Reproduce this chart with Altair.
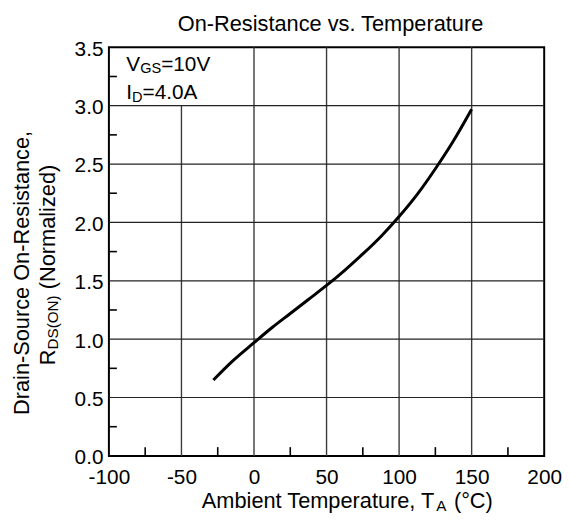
import altair as alt
import pandas as pd

# ---- data ----
temp_c = [-28, -15, 0, 12.5, 25, 37.5, 50, 62.5, 75, 87.5, 100, 112.5, 125, 137.5, 150]
rds_norm = [0.65, 0.81, 0.97, 1.10, 1.22, 1.34, 1.46, 1.59, 1.73, 1.88, 2.05, 2.24, 2.46, 2.70, 2.97]

x_ticks = [-100, -50, 0, 50, 100, 150, 200]
y_ticks = [0.0, 0.5, 1.0, 1.5, 2.0, 2.5, 3.0, 3.5]
x_minor = [-75, -25, 25, 75, 125, 175]
y_minor = [0.25, 0.75, 1.25, 1.75, 2.25, 2.75, 3.25]
v_grid_x = [-50, 0, 50, 100, 150]
v_grid_top = [3.0, 3.5, 3.5, 3.5, 3.5]
h_grid_y = [0.5, 1.0, 1.5, 2.0, 2.5, 3.0]

title_text = "On-Resistance vs. Temperature"
x_title_parts = [("Ambient Temperature, T", "main"), ("A", "sub"), (" (°C)", "main")]
y_title_line1 = [("Drain-Source On-Resistance,", "main")]
y_title_line2 = [("R", "main"), ("DS(ON)", "sub"), (" (Normalized)", "main")]
note_line1 = [("V", "main"), ("GS", "sub"), ("=10V", "main")]
note_line2 = [("I", "main"), ("D", "sub"), ("=4.0A", "main")]
note_x = -88
note_y = [3.30, 3.06]

FONT = "Liberation Sans"
FS = 21
SUB = 0.7
W, H = 440, 413

# Arial / Liberation Sans advance widths (1/1000 em)
CW = {' ': 278, '(': 333, ')': 333, ',': 278, '-': 333, '.': 278, '=': 584, '°': 400,
      'A': 667, 'C': 722, 'D': 722, 'G': 778, 'I': 278, 'N': 722, 'O': 778, 'R': 722,
      'S': 667, 'T': 611, 'V': 667, 'a': 556, 'b': 556, 'c': 500, 'd': 556, 'e': 556,
      'i': 222, 'l': 222, 'm': 833, 'n': 556, 'o': 556, 'p': 556, 'r': 333, 's': 500,
      't': 278, 'u': 556, 'v': 500, 'z': 500}


def text_width(t, size):
    return sum(CW.get(c, 556) for c in t) * size / 1000.0


one = pd.DataFrame({"k": [0]})

xscale = alt.Scale(domain=[-100, 200], nice=False, zero=False)
yscale = alt.Scale(domain=[0, 3.5], nice=False, zero=False)
xaxis = alt.Axis(values=x_ticks, labelExpr="datum.value", labelPadding=11, ticks=False,
                 tickSize=0, domain=False, grid=False, labelFontSize=FS, labelFont=FONT,
                 labelColor="black", labelFlush=False, labelOverlap=False)
yaxis = alt.Axis(values=y_ticks, format=".1f", labelPadding=6, ticks=False, tickSize=0,
                 domain=False, grid=False, labelFontSize=FS, labelFont=FONT,
                 labelColor="black", labelOffset=2, labelOverlap=False)


def X(field):
    return alt.X(field, type="quantitative", scale=xscale, axis=xaxis, title=None)


def Y(field):
    return alt.Y(field, type="quantitative", scale=yscale, axis=yaxis, title=None)


def composite(parts, x, y, size, sub_shift, angle=0, anchor="center", sub_dx=0.0):
    sizes = [size if kind == "main" else size * SUB for _, kind in parts]
    widths = [text_width(t, s) for (t, _), s in zip(parts, sizes)]
    total = sum(widths)
    cum = -total / 2 if anchor == "center" else 0.0
    out = []
    for (t, kind), s, w in zip(parts, sizes, widths):
        lead = len(t) - len(t.lstrip(" "))
        pre = text_width(" " * lead, s)
        shift = sub_dx if kind == "sub" else 0.0
        props = dict(text=t.lstrip(" "), align="left", baseline="alphabetic", fontSize=s,
                     font=FONT, color="black", dx=cum + pre + shift,
                     dy=(sub_shift if kind == "sub" else 0))
        if angle:
            props["angle"] = angle
        out.append(alt.Chart(one).mark_text(**props).encode(x=x, y=y))
        cum += w
    return out


grid_v = alt.Chart(pd.DataFrame({"x": v_grid_x, "y0": [0] * len(v_grid_x), "y1": v_grid_top})) \
    .mark_rule(color="#3a3a3a", strokeWidth=1.4).encode(x=X("x"), y=Y("y0"), y2="y1")
grid_h = alt.Chart(pd.DataFrame({"y": h_grid_y})) \
    .mark_rule(color="#222222", strokeWidth=1.2).encode(y=Y("y"))
ticks_x = alt.Chart(pd.DataFrame({"x": x_minor, "y0": [0] * len(x_minor), "y1": [0.075] * len(x_minor)})) \
    .mark_rule(color="black", strokeWidth=1.6).encode(x=X("x"), y=Y("y0"), y2="y1")
ticks_y = alt.Chart(pd.DataFrame({"y": y_minor, "x0": [-100] * len(y_minor), "x1": [-94.5] * len(y_minor)})) \
    .mark_rule(color="black", strokeWidth=1.6).encode(y=Y("y"), x=X("x0"), x2="x1")
curve = alt.Chart(pd.DataFrame({"T": temp_c, "R": rds_norm})) \
    .mark_line(color="black", strokeWidth=3, interpolate="monotone").encode(x=X("T"), y=Y("R"))

title = alt.Chart(one).mark_text(text=title_text, align="center", baseline="alphabetic",
                                 fontSize=22, font=FONT, color="black") \
    .encode(x=alt.value(224), y=alt.value(-16))

texts = []
texts += composite(x_title_parts, alt.value(241), alt.value(466), 22, 3, sub_dx=-1.5)
texts += composite(y_title_line1, alt.value(-81), alt.value(228), 22, 3, angle=270)
texts += composite(y_title_line2, alt.value(-54), alt.value(220), 22, 3, angle=270)
texts += composite(note_line1, alt.XDatum(note_x, scale=xscale, axis=xaxis, title=None),
                   alt.YDatum(note_y[0], scale=yscale, axis=yaxis, title=None), FS, 2, anchor="left")
texts += composite(note_line2, alt.XDatum(note_x, scale=xscale, axis=xaxis, title=None),
                   alt.YDatum(note_y[1], scale=yscale, axis=yaxis, title=None), FS, 3, anchor="left")

chart = alt.layer(grid_v, grid_h, ticks_x, ticks_y, curve, title, *texts).properties(
    width=W, height=H,
    padding={"left": 102, "top": 37, "right": 18, "bottom": 56},
    autosize=alt.AutoSizeParams(type="none"),
    background="white",
).configure_view(stroke="black", strokeWidth=2)

chart.save("out.html", embed_options={"renderer": "svg", "actions": False})
